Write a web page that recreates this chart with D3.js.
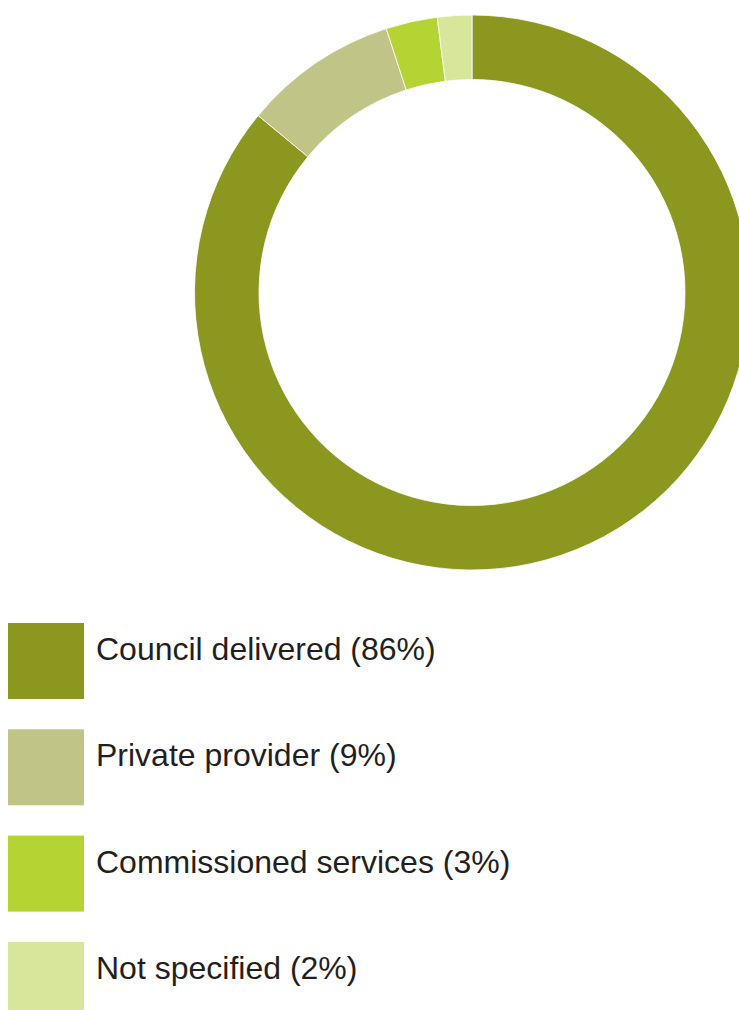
<!DOCTYPE html>
<html>
<head>
<meta charset="utf-8">
<script src="https://cdn.jsdelivr.net/npm/d3@7"></script>
<style>
  html, body { margin: 0; padding: 0; background: #ffffff; }
  svg { display: block; }
</style>
</head>
<body>
<svg id="chart" width="739" height="1010"></svg>
<script>
// Service delivery breakdown
const categories = ["Council delivered", "Private provider", "Commissioned services", "Not specified"];
const values = [86, 9, 3, 2];
const colors = ["#8c971f", "#c0c486", "#b6d334", "#d8e69c"];

const svg = d3.select("#chart");

const cx = 472, cy = 292.5;
const outerR = 277.5, innerR = 213;

const data = categories.map((c, i) => ({ category: c, value: values[i], color: colors[i] }));

// Segments run clockwise from 12 o'clock
const pie = d3.pie()
  .value(d => d.value)
  .sort(null)
  .startAngle(0)
  .endAngle(2 * Math.PI);

const arc = d3.arc()
  .innerRadius(innerR)
  .outerRadius(outerR);

svg.append("g")
  .attr("transform", `translate(${cx},${cy})`)
  .selectAll("path")
  .data(pie(data))
  .join("path")
  .attr("d", arc)
  .attr("fill", d => d.data.color)
  .attr("stroke", "#ffffff")
  .attr("stroke-width", 0.8);

// Legend
const legendY = d3.scaleLinear().domain([0, 1]).range([623, 729.3]);
const legend = svg.append("g")
  .selectAll("g")
  .data(data)
  .join("g")
  .attr("transform", (d, i) => `translate(8,${legendY(i)})`);

legend.append("rect")
  .attr("width", 76)
  .attr("height", 76)
  .attr("fill", d => d.color);

legend.append("text")
  .attr("x", 88)
  .attr("y", 37)
  .attr("font-family", "'Liberation Sans', Arial, sans-serif")
  .attr("font-size", 32)
  .attr("fill", "#231f20")
  .text(d => `${d.category} (${d.value}%)`);
</script>
</body>
</html>
